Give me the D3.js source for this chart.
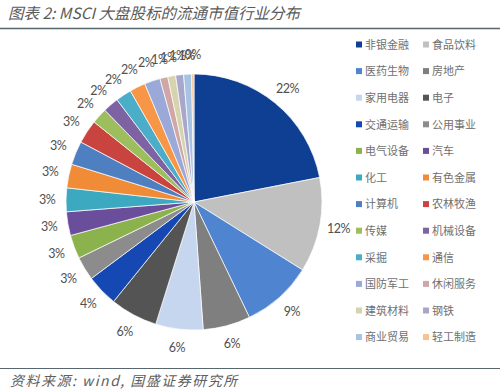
<!DOCTYPE html>
<html>
<head>
<meta charset="utf-8">
<script src="https://cdn.jsdelivr.net/npm/d3@7"></script>
<style>
  body { margin: 0; background: #fff; }
  svg { display: block; }
</style>
</head>
<body>
<svg id="chart" width="500" height="391"></svg>
<script>
// industry names, in pie order (clockwise from 12 o'clock)
const industries = ["非银金融", "食品饮料", "医药生物", "房地产", "家用电器", "电子",
	"交通运输", "公用事业", "电气设备", "汽车", "化工", "有色金属",
	"计算机", "农林牧渔", "传媒", "机械设备", "采掘", "通信",
	"国防军工", "休闲服务", "建筑材料", "钢铁", "商业贸易", "轻工制造"]
// share of float market cap, %
const shares = [22, 12, 9, 6, 6, 6, 4, 3, 3, 3, 3, 3, 3, 3, 2, 2, 2, 2, 2, 1, 1, 1, 1, 0.3]
const shareLabels = ["22%", "12%", "9%", "6%", "6%", "6%", "4%", "3%", "3%", "3%", "3%", "3%",
	"3%", "3%", "2%", "2%", "2%", "2%", "2%", "1%", "1%", "1%", "1%", "0%"]
const sliceColors = ["#0e3f93", "#c0c0c0", "#4f84d0", "#7f7f7f", "#c6d6ee", "#545454",
	"#1548b3", "#8c8c8c", "#8cb24e", "#6b4e9b", "#3da9c1", "#f08b37",
	"#4e7fc1", "#c9443f", "#9dbe5c", "#7e63a3", "#4badc7", "#f79646",
	"#9aa9d8", "#cfa7a7", "#d6d4ae", "#a9a6cc", "#a7c3e4", "#fac090"]

const svg = d3.select("#chart")
const cx = 194, cy = 202, radius = 128

// title + rules
svg.append("text")
	.attr("x", 8).attr("y", 19)
	.attr("font-family", "Noto Sans CJK SC")
	.attr("font-size", 15.5)
	.attr("font-style", "italic")
	.attr("fill", "#5a5a5a")
	.text("图表 2:  MSCI 大盘股标的流通市值行业分布")
svg.append("line")
	.attr("x1", 0).attr("x2", 500).attr("y1", 28.5).attr("y2", 28.5)
	.attr("stroke", "#58666e").attr("stroke-width", 1.5)
svg.append("line")
	.attr("x1", 0).attr("x2", 500).attr("y1", 368.5).attr("y2", 368.5)
	.attr("stroke", "#58666e").attr("stroke-width", 1)
svg.append("text")
	.attr("x", 10).attr("y", 386)
	.attr("font-family", "Noto Sans CJK SC")
	.attr("font-size", 14)
	.attr("font-style", "italic")
	.attr("letter-spacing", 1.5)
	.attr("fill", "#606060")
	.text("资料来源: wind, 国盛证券研究所")

// pie
const color = d3.scaleOrdinal().domain(industries).range(sliceColors)
const pie = d3.pie().sort(null).value(d => d.v)
const arcs = pie(industries.map((name, i) => ({ name, v: shares[i], label: shareLabels[i] })))
const arc = d3.arc().innerRadius(0).outerRadius(radius)

const g = svg.append("g").attr("transform", `translate(${cx},${cy})`)
g.selectAll("path")
	.data(arcs)
	.join("path")
	.attr("d", arc)
	.attr("fill", d => color(d.data.name))
	.attr("stroke", "#fff")
	.attr("stroke-width", 0.7)

// outside-end labels
const labelArc = d3.arc().innerRadius(radius + 19).outerRadius(radius + 19)
g.selectAll("text.pct")
	.data(arcs)
	.join("text")
	.attr("class", "pct")
	.attr("transform", d => `translate(${labelArc.centroid(d)})`)
	.attr("text-anchor", "middle")
	.attr("dy", "0.35em")
	.attr("font-family", "Lato")
	.attr("font-size", 12.5)
	.attr("letter-spacing", -0.5)
	.attr("fill", "#505050")
	.text(d => d.data.label)

// legend, two columns
const legendX = [356, 423], legendY0 = 45, rowStep = 26.6
const legend = svg.append("g")
const items = legend.selectAll("g")
	.data(industries)
	.join("g")
	.attr("transform", (d, i) => `translate(${legendX[i % 2]},${legendY0 + Math.floor(i / 2) * rowStep})`)
items.append("rect")
	.attr("x", 0).attr("y", -3.5).attr("width", 6).attr("height", 6)
	.attr("fill", d => color(d))
items.append("text")
	.attr("x", 9).attr("dy", "0.35em")
	.attr("font-family", "Noto Sans CJK SC")
	.attr("font-size", 11)
	.attr("fill", "#707070")
	.text(d => d)
</script>
</body>
</html>
